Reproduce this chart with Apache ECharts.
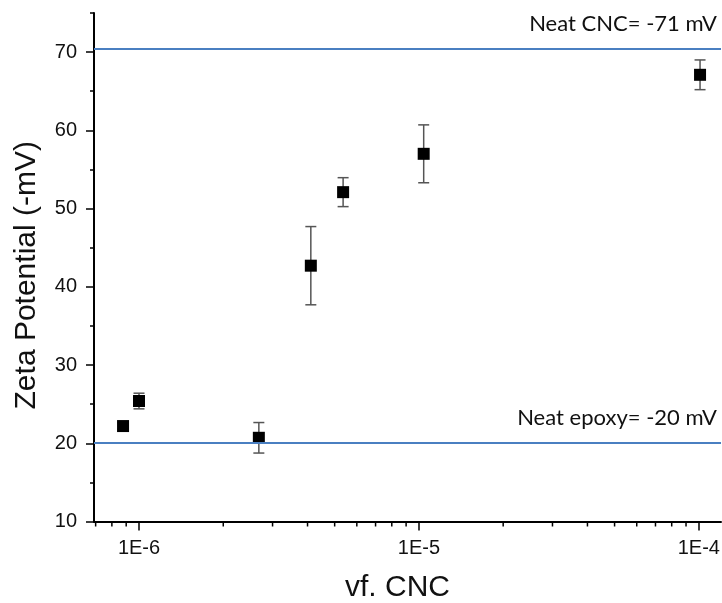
<!DOCTYPE html>
<html>
<head>
<meta charset="utf-8">
<script src="https://cdn.jsdelivr.net/npm/echarts@6/dist/echarts.min.js"></script>
<style>html,body{margin:0;padding:0;background:#fff;}#chart{width:722px;height:603px;}</style>
</head>
<body>
<div id="chart"></div>
<script>
// Data
const vfCNC = [8.77e-7, 1.0e-6, 2.68e-6, 4.11e-6, 5.36e-6, 1.04e-5, 1.01e-4];
const zeta = [22.2, 25.4, 20.7, 42.7, 52.1, 57.0, 67.1];
const zetaErr = [0.4, 1.0, 1.95, 5.0, 1.85, 3.7, 1.9];
const refLines = [70.4, 20.1];
const refLabels = ['Neat CNC= -71 mV', 'Neat epoxy= -20 mV'];
const yMajorTicks = [10, 20, 30, 40, 50, 60, 70];
const yMinorTicks = [15, 25, 35, 45, 55, 65, 75];
const xMinorTicks = [7e-7, 8e-7, 9e-7, 2e-6, 3e-6, 4e-6, 5e-6, 6e-6, 7e-6, 8e-6, 9e-6,
  2e-5, 3e-5, 4e-5, 5e-5, 6e-5, 7e-5, 8e-5, 9e-5];
const xMin = 6.906e-7, xMax = 1.2e-4, yMin = 10, yMax = 75;

const chart = echarts.init(document.getElementById('chart'));
const labelFont = 'Liberation Sans';
const annFont = 'Lato';

const errData = vfCNC.map((x, i) => [x, zeta[i] - zetaErr[i], zeta[i] + zetaErr[i]]);
const scatterData = vfCNC.map((x, i) => [x, zeta[i]]);

chart.setOption({
  animation: false,
  backgroundColor: '#fff',
  grid: { left: 94, right: 1, top: 13, bottom: 81.5, containLabel: false, outerBoundsMode: 'none' },
  xAxis: [{
    type: 'log', logBase: 10, min: xMin, max: xMax,
    name: 'vf. CNC', nameLocation: 'middle', nameGap: 51,
    nameTextStyle: { fontFamily: labelFont, fontSize: 30, color: '#111', padding: [0, 20, 0, 0] },
    axisLine: { show: true, lineStyle: { color: '#000', width: 2 } },
    axisTick: { show: true, length: 9, lineStyle: { color: '#000', width: 1.5 } },
    axisLabel: {
      fontFamily: labelFont, fontSize: 20, color: '#111', margin: 17,
      showMinLabel: false, showMaxLabel: false,
      formatter: v => '1E' + Math.round(Math.log10(v))
    },
    splitLine: { show: false }, minorTick: { show: false }
  }],
  yAxis: [{
    type: 'value', min: yMin, max: yMax, position: 'left',
    name: 'Zeta Potential (-mV)', nameLocation: 'middle', nameGap: 52,
    nameTextStyle: { fontFamily: labelFont, fontSize: 30, color: '#111', padding: [0, 16, 0, 0] },
    axisLine: { show: true, lineStyle: { color: '#000', width: 2 } },
    axisTick: { show: true, length: 8, customValues: yMajorTicks, lineStyle: { color: '#000', width: 1.5 } },
    axisLabel: { fontFamily: labelFont, fontSize: 20, color: '#111', margin: 17, customValues: yMajorTicks },
    splitLine: { show: false }
  }, {
    type: 'value', min: yMin, max: yMax, position: 'left', offset: 0,
    axisLine: { show: false },
    axisTick: { show: true, length: 4, customValues: yMinorTicks, lineStyle: { color: '#000', width: 1.5 } },
    axisLabel: { show: false },
    splitLine: { show: false }
  }],
  series: [{
    type: 'custom',
    name: 'xminor',
    silent: true,
    clip: false,
    z: 5,
    data: xMinorTicks.map(v => [v]),
    renderItem: (params, api) => {
      const p = api.coord([api.value(0), yMin]);
      return {
        type: 'line',
        shape: { x1: p[0], y1: p[1], x2: p[0], y2: p[1] + 5 },
        style: { stroke: '#000', lineWidth: 1.5 }
      };
    }
  }, {
    type: 'custom',
    name: 'err',
    silent: true,
    clip: false,
    z: 3,
    data: errData,
    renderItem: (params, api) => {
      const x = api.value(0);
      const lo = api.coord([x, api.value(1)]);
      const hi = api.coord([x, api.value(2)]);
      const w = 5.5;
      const st = { stroke: '#555', lineWidth: 1.5 };
      return {
        type: 'group',
        children: [
          { type: 'line', shape: { x1: lo[0], y1: lo[1], x2: hi[0], y2: hi[1] }, style: st },
          { type: 'line', shape: { x1: lo[0] - w, y1: lo[1], x2: lo[0] + w, y2: lo[1] }, style: st },
          { type: 'line', shape: { x1: hi[0] - w, y1: hi[1], x2: hi[0] + w, y2: hi[1] }, style: st }
        ]
      };
    }
  }, {
    type: 'scatter',
    name: 'zeta',
    symbol: 'rect',
    symbolSize: 12,
    z: 4,
    itemStyle: { color: '#000', opacity: 1 },
    data: scatterData,
    markLine: {
      silent: true,
      symbol: 'none',
      animation: false,
      lineStyle: { color: '#4a7fc1', width: 2.2, type: 'solid' },
      label: {
        show: true, position: 'insideEndTop', distance: [4, 14],
        fontFamily: annFont, fontSize: 22, color: '#111',
        formatter: p => p.name
      },
      data: refLines.map((v, i) => ({ yAxis: v, name: refLabels[i] }))
    }
  }]
});
</script>
</body>
</html>
